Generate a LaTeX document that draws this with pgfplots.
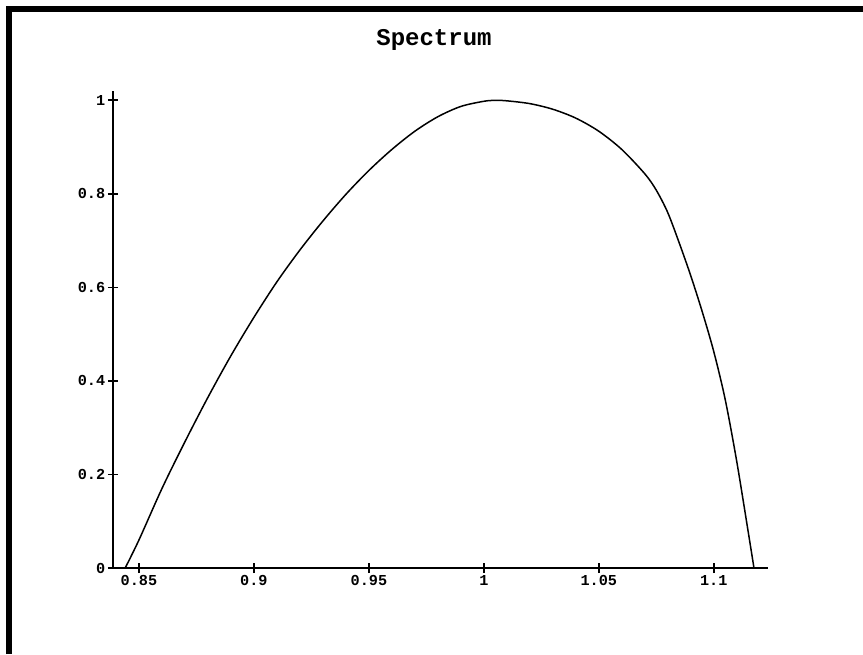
\documentclass[border=0pt]{standalone}
\usepackage{fontspec}
\usepackage{pgfplots}
\pgfplotsset{compat=1.18}
\newfontfamily\courier{Liberation Mono}
\begin{document}
\begin{tikzpicture}
\begin{axis}[
  at={(0,0)}, anchor=south west,
  scale only axis,
  width=327.5pt, height=238.5pt,
  xmin=0.8387, xmax=1.1236,
  ymin=0, ymax=1.02,
  axis lines=left,
  axis line style={-, line width=1.4pt},
  tick align=center,
  major tick length=5pt,
  tick style={line width=0.9pt, black},
  xtick={0.85,0.9,0.95,1,1.05,1.1},
  ytick={0,0.2,0.4,0.6,0.8,1},
  minor tick num=0,
  /pgf/number format/assume math mode=true,
  ticklabel style={font=\courier\bfseries\fontsize{7.6}{9}\selectfont},
  xticklabel style={inner sep=1pt},
  yticklabel style={inner sep=1.2pt},
  clip=false,
]
\addplot[black, line width=0.75pt, smooth, tension=0.5] coordinates {
(0.8440,0.000) (0.850,0.060) (0.860,0.170) (0.870,0.270) (0.880,0.365)
(0.890,0.454) (0.900,0.536) (0.910,0.612) (0.920,0.680) (0.930,0.742)
(0.940,0.799) (0.950,0.850) (0.960,0.895) (0.970,0.934) (0.980,0.965)
(0.990,0.987) (1.000,0.998) (1.005,1.000) (1.010,0.999) (1.020,0.993)
(1.030,0.981) (1.040,0.962) (1.050,0.934) (1.060,0.895) (1.070,0.843)
(1.075,0.808) (1.080,0.760) (1.085,0.695) (1.090,0.625) (1.095,0.548)
(1.100,0.463) (1.105,0.360) (1.110,0.228) (1.115,0.077) (1.1175,0.000)
};
\end{axis}
\node[font=\courier\bfseries\fontsize{12}{14}\selectfont] at (160.5pt,264pt) {Spectrum};
% frame (scan border)
\draw[line width=3pt, black] (-52pt,-43pt) -- (-52pt,279.25pt) -- (375pt,279.25pt);
\pgfresetboundingbox
\path[use as bounding box] (-56.5pt,-43pt) rectangle (375pt,284pt);
\end{tikzpicture}
\end{document}
